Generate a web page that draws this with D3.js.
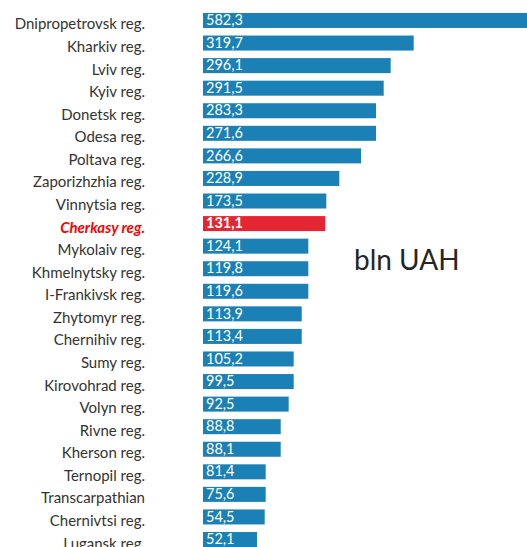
<!DOCTYPE html>
<html>
<head>
<meta charset="utf-8">
<script src="https://cdn.jsdelivr.net/npm/d3@7"></script>
<style>
  body { margin: 0; background: #fff; }
  svg { display: block; }
</style>
</head>
<body>
<svg id="barChart"></svg>
<script>
// regions, top to bottom
const regions = [
  "Dnipropetrovsk reg.", "Kharkiv reg.", "Lviv reg.", "Kyiv reg.", "Donetsk reg.",
  "Odesa reg.", "Poltava reg.", "Zaporizhzhia reg.", "Vinnytsia reg.", "Cherkasy reg.",
  "Mykolaiv reg.", "Khmelnytsky reg.", "I-Frankivsk reg.", "Zhytomyr reg.", "Chernihiv reg.",
  "Sumy reg.", "Kirovohrad reg.", "Volyn reg.", "Rivne reg.", "Kherson reg.",
  "Ternopil reg.", "Transcarpathian", "Chernivtsi reg.", "Lugansk reg."
];

// printed values, bln UAH
const values = [
  582.3, 319.7, 296.1, 291.5, 283.3, 271.6, 266.6, 228.9, 173.5, 131.1,
  124.1, 119.8, 119.6, 113.9, 113.4, 105.2, 99.5, 92.5, 88.8, 88.1,
  81.4, 75.6, 54.5, 52.1
];

// the original bars are not drawn to scale: these are their drawn lengths
// in the same bln UAH units (Kharkiv taken as exact)
const drawnLength = [
  582.3, 319.7, 284.8, 274.2, 262.5, 262.5, 239.8, 206.8, 187.1, 185.6,
  159.8, 159.8, 159.8, 149.8, 149.8, 137.6, 137.6, 130.0, 117.9, 117.9,
  95.1, 95.1, 93.6, 81.9
];

const highlight = "Cherkasy reg.";
const unitLabel = "bln UAH";

function createBarChart() {
    const width = 527, height = 547;

    const data = regions.map((r, i) => ({ region: r, value: values[i], len: drawnLength[i] }));

    const svg = d3.select("#barChart")
                  .attr("width", width)
                  .attr("height", height);

    const y = d3.scaleBand()
                .domain(regions)
                .range([9.2, 550.8])
                .paddingInner(0.335)
                .paddingOuter(0.1675);

    // 0.659 px per bln UAH, bars start at x = 203
    const x = d3.scaleLinear()
                .domain([0, 500])
                .range([203, 203 + 500 * 0.659]);

    const fmt = v => d3.format(".1f")(v).replace(".", ",");

    // bars
    svg.selectAll(".bar")
       .data(data)
       .enter().append("rect")
       .attr("class", "bar")
       .attr("x", x(0))
       .attr("y", d => y(d.region))
       .attr("width", d => x(d.len) - x(0))
       .attr("height", y.bandwidth())
       .attr("fill", d => d.region === highlight ? "#e32632" : "#1a80b6");

    // value labels inside the bars
    svg.selectAll(".val")
       .data(data)
       .enter().append("text")
       .attr("class", "val")
       .attr("x", x(0) + 3)
       .attr("y", d => y(d.region) + y.bandwidth() / 2 + 1)
       .attr("dominant-baseline", "middle")
       .style("font-family", "Lato, 'Open Sans', sans-serif")
       .style("font-size", "14.5px")
       .style("font-weight", d => d.region === highlight ? "bold" : "normal")
       .attr("fill", "#fff")
       .text(d => fmt(d.value));

    // category labels (y axis without line/ticks)
    const yAxis = svg.append("g")
       .attr("transform", "translate(145,4.2)")
       .call(d3.axisLeft(y).tickSize(0).tickPadding(0));
    yAxis.select(".domain").remove();
    yAxis.selectAll("text")
       .style("font-family", "Lato, 'Open Sans', sans-serif")
       .style("font-size", "15px")
       .attr("fill", d => d === highlight ? "#ff0000" : "#333")
       .style("font-weight", d => d === highlight ? "bold" : "normal")
       .style("font-style", d => d === highlight ? "italic" : "normal");

    // unit note
    svg.append("text")
       .attr("x", 354)
       .attr("y", 270)
       .style("font-family", "Lato, 'Open Sans', sans-serif")
       .style("font-size", "28px")
       .attr("fill", "#262626")
       .text(unitLabel);
}

createBarChart();
</script>
</body>
</html>
